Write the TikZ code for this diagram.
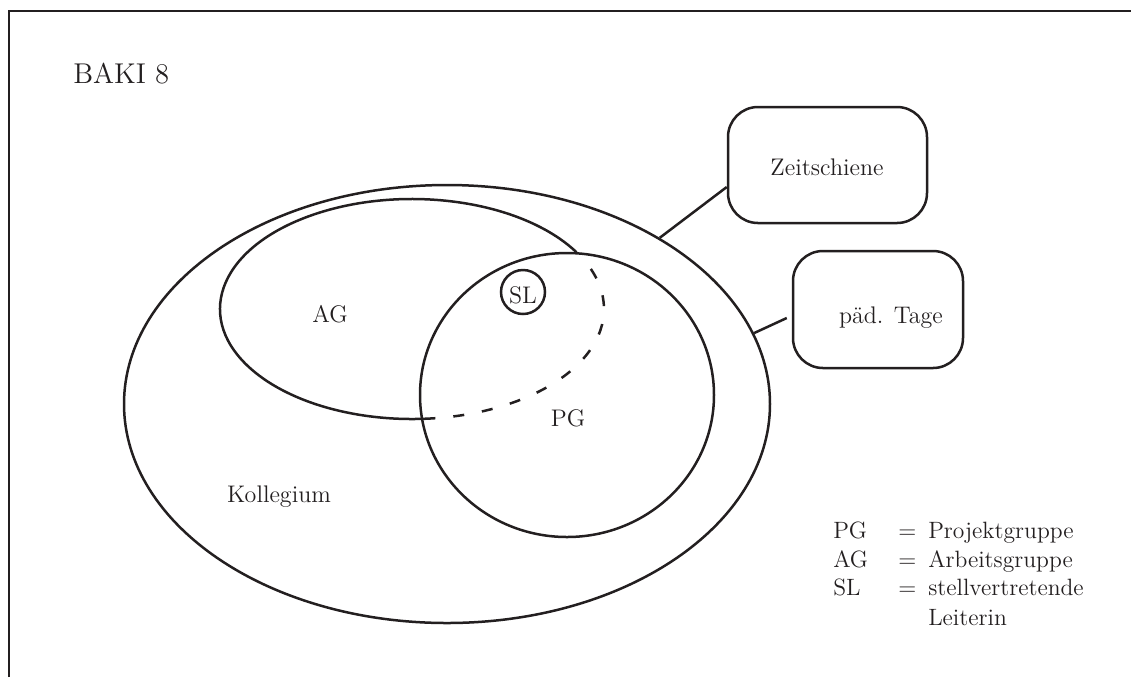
\documentclass[tikz,border=0pt]{standalone}
\usetikzlibrary{shapes.geometric}
\definecolor{ink}{HTML}{231F20}
\begin{document}
\begin{tikzpicture}[x=0.5pt,y=-0.5pt,
  line width=1.25pt, draw=ink, text=ink,
  lbl/.style={font=\fontsize{12}{14.5}\selectfont, inner sep=0pt, anchor=base},
  leg/.style={font=\fontsize{11.8}{14.5}\selectfont, inner sep=0pt, anchor=base west},
  setshape/.style={draw, ellipse, inner sep=0pt},
  roundbox/.style={draw, rectangle, rounded corners=15pt, inner sep=0pt}
]
\useasboundingbox (0,0) rectangle (1131,677);
% frame
\draw[line width=1.4pt] (9,677) -- (9,11) -- (1131,11);
\node[inner sep=0pt, anchor=base west, font=\fontsize{14.3}{17}\selectfont] (title) at (72,83) {BAKI 8};

% sets
\node[setshape, minimum width=323pt, minimum height=219pt] (koll) at (447,404) {};
\node[setshape, minimum width=147pt, minimum height=142pt] (pg) at (567,395) {};
\coordinate (agc) at (412,309);
\draw ([shift={(31:96pt and 55pt)}]agc) arc[start angle=31, end angle=277, x radius=96pt, y radius=55pt];
\draw[dash pattern=on 5.5pt off 9pt, dash phase=5.5pt] ([shift={(-83:96pt and 55pt)}]agc) arc[start angle=-83, end angle=24, x radius=96pt, y radius=55pt];
\node[draw, circle, minimum size=22pt, inner sep=0pt] (sl) at (523,292) {};
\node[lbl] (sltxt) at (523,303) {SL};

\node[lbl] (agtxt) at (330,322) {AG};
\node[lbl] (pgtxt) at (568,426) {PG};
\node[lbl] (kolltxt) at (279,502) {Kollegium};

% boxes
\node[roundbox, minimum width=99.5pt, minimum height=58pt] (zbox) at (827.5,165) {};
\node[lbl] (ztxt) at (827,175) {Zeitschiene};
\node[roundbox, minimum width=85pt, minimum height=58.5pt] (pbox) at (878,309.5) {};
\node[lbl] (ptxt) at (891,323) {päd. Tage};

\draw (koll.38.9) -- ([yshift=-11pt]zbox.west);
\draw (koll.13.2) -- ([xshift=-2.5pt,yshift=-4.25pt]pbox.west);

% legend
\node[leg] (l1a) at (832,538) {PG};
\node[leg] (l1b) at (897,538) {=};
\node[leg] (l1c) at (927,538) {Projektgruppe};
\node[leg] (l2a) at (832,567) {AG};
\node[leg] (l2b) at (897,567) {=};
\node[leg] (l2c) at (927,567) {Arbeitsgruppe};
\node[leg] (l3a) at (832,595) {SL};
\node[leg] (l3b) at (897,595) {=};
\node[leg] (l3c) at (927,595) {stellvertretende};
\node[leg] (l4c) at (927,625) {Leiterin};
\end{tikzpicture}
\end{document}
